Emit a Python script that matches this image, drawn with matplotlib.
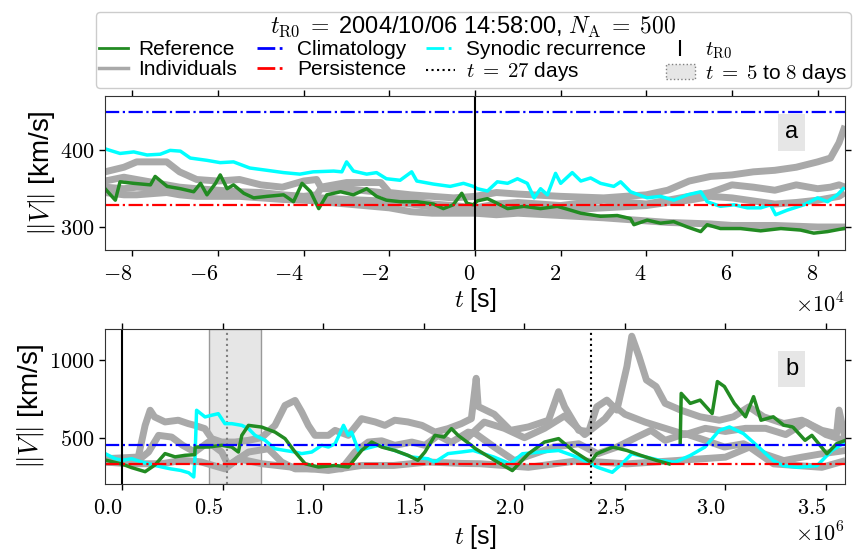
import numpy as np
import matplotlib.pyplot as plt
from matplotlib.lines import Line2D
from matplotlib.patches import Patch
from matplotlib.ticker import MultipleLocator, FuncFormatter

plt.rcParams['font.family'] = ['Liberation Sans', 'DejaVu Sans']
plt.rcParams['mathtext.fontset'] = 'cm'

# ---- values ----
climatology = 450.0
persistence = 329.0
day = 86400.0

# panel a: time in 1e4 s, speed in km/s
ta_ref = [-8.64, -8.4, -8.29, -7.97, -7.58, -7.47, -7.19, -6.88, -6.57, -6.41, -6.26, -6.06, -5.95, -5.79,
          -5.64, -5.4, -5.17, -4.86, -4.47, -4.24, -4.04, -3.84, -3.65, -3.46, -3.14, -2.84, -2.53, -2.3,
          -2.07, -1.75, -1.36, -0.97, -0.74, -0.51, -0.31, -0.19, -0.04, 0.05, 0.29, 0.44, 0.76, 1.14, 1.53,
          1.92, 2.23, 2.47, 2.93, 3.32, 3.63, 3.71, 4.02, 4.33, 4.64, 4.96, 5.27, 5.42, 5.73, 6.2, 6.67,
          7.14, 7.6, 7.91, 8.23, 8.61]
va_ref = [350, 335, 359, 357, 355, 366, 353, 350, 346, 357, 342, 357, 368, 350,
          355, 344, 338, 340, 342, 333, 357, 346, 324, 342, 346, 342, 350, 340,
          335, 333, 333, 330, 324, 329, 344, 331, 329, 334, 337, 333, 324, 327, 324,
          327, 322, 318, 314, 315, 311, 303, 309, 305, 307, 300, 294, 303, 298, 298, 295,
          298, 296, 292, 294, 298]

ta_syn = [-8.64, -8.29, -7.97, -7.66, -7.35, -7.12, -6.88, -6.65, -6.26, -5.95, -5.64, -5.26, -4.86, -4.47,
          -4.09, -3.78, -3.3, -3.11, -3.0, -2.84, -2.53, -2.3, -2.07, -1.75, -1.48, -1.36, -0.97, -0.58,
          -0.27, -0.04, 0.05, 0.29, 0.52, 0.76, 0.99, 1.22, 1.38, 1.53, 1.69, 1.88, 2.0, 2.27, 2.47, 2.7,
          2.93, 3.24, 3.4, 3.63, 4.02, 4.33, 4.64, 4.96, 5.27, 5.42, 5.73, 6.05, 6.36, 6.67, 6.9, 7.02,
          7.29, 7.68, 8.0, 8.23, 8.46, 8.6]
va_syn = [402, 396, 398, 394, 395, 400, 399, 390, 387, 384, 385, 377, 374, 371,
          369, 372, 373, 372, 385, 373, 369, 371, 363, 361, 372, 360, 356, 353,
          357, 353, 350, 347, 359, 357, 363, 357, 338, 350, 342, 370, 357, 371, 360, 364,
          357, 353, 359, 346, 338, 340, 335, 342, 346, 333, 327, 329, 325, 325, 329, 316,
          322, 329, 338, 333, 342, 350]

ta_ind = [-8.64, -8.2, -7.9, -7.2, -6.9, -6.5, -6.0, -5.5, -5.0, -4.5, -4.0, -3.7, -3.6, -3.0, -2.2, -2.0,
          -1.5, -1.0, -0.5, 0.0, 0.5, 1.0, 2.0, 3.0, 4.0, 4.5, 5.0, 5.5, 6.0, 6.5, 7.0, 7.5, 8.0, 8.3,
          8.5, 8.64]
va_ind1 = [372, 378, 385, 385, 372, 362, 360, 362, 355, 352, 360, 362, 352, 358, 358, 345,
           342, 340, 338, 340, 345, 343, 340, 338, 342, 348, 360, 366, 368, 372, 374, 378, 385, 390,
           410, 432]
va_ind2 = [360, 365, 362, 355, 352, 350, 348, 346, 345, 342, 340, 342, 350, 350, 345, 340,
           335, 330, 328, 325, 330, 332, 328, 335, 330, 335, 340, 345, 355, 352, 348, 355, 350, 352,
           355, 352]
va_ind3 = [345, 342, 342, 345, 342, 340, 340, 340, 338, 336, 335, 334, 333, 330, 326, 325,
           320, 318, 318, 318, 316, 318, 315, 312, 308, 306, 305, 304, 302, 302, 302, 301, 300, 300,
           300, 300]
va_ind4 = [352, 350, 352, 350, 347, 345, 343, 344, 342, 340, 338, 340, 338, 336, 334, 333,
           330, 326, 324, 322, 324, 325, 322, 325, 328, 332, 335, 340, 338, 334, 330, 332, 335, 338,
           340, 345]

# panel b: time in 1e6 s, speed in km/s
tb_ref = [-0.086, 0.0, 0.046, 0.113, 0.162, 0.212, 0.262, 0.312, 0.36, 0.362, 0.428, 0.494, 0.544, 0.577,
          0.594, 0.627, 0.693, 0.759, 0.809, 0.859, 0.909, 0.975, 1.058, 1.124, 1.157, 1.19, 1.24, 1.29,
          1.355, 1.42, 1.47, 1.505, 1.555, 1.6, 1.637, 1.67, 1.736, 1.757, 1.854, 1.94, 2.02, 2.1, 2.17,
          2.24, 2.33, 2.36, 2.44, 2.51, 2.58, 2.66, 2.72, np.nan, 2.775, 2.78, 2.825, 2.874, 2.934, 2.96,
          2.995, 3.044, 3.1, 3.14, 3.177, 3.238, 3.29, 3.335, 3.396, 3.43, 3.505, 3.553, 3.597]
vb_ref = [357, 330, 308, 282, 325, 398, 377, 387, 391, 440, 440, 451, 440, 408,
          515, 579, 568, 536, 494, 408, 333, 312, 322, 312, 365, 418, 472, 440,
          418, 387, 355, 408, 515, 504, 558, 515, 451, 429, 353, 289, 397, 472, 494,
          418, 343, 397, 440, 418, 386, 353, 332, np.nan, 470, 784, 720, 741, 655, 860,
          828, 720, 634, 763, 612, 634, 580, 569, 483, 515, 397, 461, 483]

tb_syn = [-0.086, -0.036, 0.0, 0.046, 0.096, 0.196, 0.24, 0.29, 0.33, 0.355, 0.361, 0.369, 0.411, 0.444,
          0.477, 0.51, 0.544, 0.594, 0.627, 0.66, 0.71, 0.759, 0.809, 0.859, 0.892, 0.942, 0.992, 1.025,
          1.058, 1.1, 1.124, 1.14, 1.174, 1.207, 1.273, 1.355, 1.44, 1.52, 1.555, 1.62, 1.686, 1.745,
          1.85, 1.93, 1.99, 2.07, 2.17, 2.24, 2.316, 2.364, 2.437, 2.485, 2.534, 2.607, 2.68, 2.75,
          2.825, 2.898, 2.97, 3.02, 3.09, 3.165, 3.238, 3.286, 3.36, 3.456, 3.53, 3.597]
vb_syn = [398, 365, 355, 365, 344, 312, 300, 290, 275, 248, 365, 676, 633, 644,
          654, 590, 590, 579, 558, 515, 483, 429, 418, 408, 398, 408, 451, 440,
          461, 579, 515, 536, 418, 429, 451, 418, 376, 365, 344, 398, 408, 418,
          375, 332, 397, 407, 418, 386, 343, 310, 278, 332, 397, 375, 353, 343,
          386, 440, 547, 569, 526, 440, 353, 321, 310, 321, 418, 472]

tb_ind1 = [-0.086, 0.079, 0.113, 0.138, 0.16, 0.212, 0.278, 0.328, 0.36, 0.41, 0.444, 0.494, 0.56, 0.627,
           0.693, 0.759, 0.809, 0.859, 0.892, 0.925, 0.958, 1.025, 1.058, 1.124, 1.19, 1.257, 1.306,
           1.355, 1.42, 1.49, 1.555, 1.62, 1.686, 1.736, 1.76, 1.77, 1.85, 1.93, 2.02, 2.12, 2.17, 2.2,
           2.27, 2.32, 2.36, 2.41, 2.46, 2.51, 2.534, 2.57, 2.607, 2.655, 2.7, 2.777, 2.874, 2.97, 3.04,
           3.117, 3.19, 3.29, 3.38, 3.48, 3.553, 3.565, 3.597]
vb_ind1 = [365, 376, 579, 676, 633, 601, 612, 590, 579, 558, 494, 472, 472, 483,
           500, 579, 707, 739, 665, 579, 515, 515, 547, 515, 622, 601, 579,
           612, 601, 579, 536, 558, 590, 622, 881, 700, 650, 547, 569, 612, 795, 698,
           547, 540, 698, 741, 677, 957, 1151, 1021, 870, 828, 720, 677, 634, 612, 634,
           698, 634, 591, 612, 547, 526, 677, 483]

tb_ind2 = [-0.086, 0.0, 0.079, 0.13, 0.18, 0.245, 0.3, 0.36, 0.428, 0.494, 0.527, 0.577, 0.627, 0.726,
           0.792, 0.859, 0.942, 1.025, 1.09, 1.157, 1.223, 1.29, 1.355, 1.44, 1.505, 1.57, 1.636, 1.72,
           1.757, 1.85, 1.95, 2.05, 2.146, 2.27, 2.364, 2.46, 2.56, 2.63, 2.7, 2.8, 2.9, 2.995, 3.09,
           3.19, 3.29, 3.38, 3.48, 3.597]
vb_ind2 = [344, 340, 355, 408, 515, 504, 451, 408, 472, 408, 322, 365, 408, 429,
           344, 300, 300, 312, 300, 408, 472, 480, 451, 472, 451, 515, 470, 536,
           526, 440, 353, 397, 440, 461, 397, 440, 504, 547, 483, 526, 483, 440, 461,
           397, 353, 375, 397, 418]

tb_ind3 = [-0.086, 0.03, 0.195, 0.3, 0.39, 0.51, 0.577, 0.693, 0.85, 1.025, 1.19, 1.35, 1.52, 1.686,
           1.78, 2.02, 2.27, 2.51, 2.75, 3.0, 3.12, 3.24, 3.48, 3.597]
vb_ind3 = [344, 333, 333, 355, 345, 300, 365, 333, 310, 290, 322, 322, 344, 335,
           333, 310, 353, 332, 353, 375, 440, 332, 310, 353]

tb_ind4 = [1.7, 1.8, 1.9, 2.0, 2.1, 2.2, 2.3, 2.4, 2.45, 2.5, 2.6, 2.7, 2.8, 2.9, 3.0, 3.1, 3.2, 3.3,
           3.4, 3.5, 3.597]
vb_ind4 = [480, 600, 560, 500, 560, 640, 520, 620, 700, 650, 600, 560, 520, 560, 540, 560, 560, 520,
           600, 520, 480]

# ---- figure ----
fig = plt.figure(figsize=(8.54, 5.51), dpi=100)
ax1 = fig.add_axes([0.123, 0.5463, 0.8665, 0.2795])
ax2 = fig.add_axes([0.123, 0.1216, 0.8665, 0.2813])

ta = np.array(ta_ind) * 1e4
for v in [va_ind1, va_ind2, va_ind3, va_ind4]:
    ax1.plot(ta, v, color='darkgray', lw=5, solid_capstyle='butt')
ax1.plot(np.array(ta_syn) * 1e4, va_syn, color='cyan', lw=2.5)
ax1.plot(np.array(ta_ref) * 1e4, va_ref, color='forestgreen', lw=2.5)
ax1.axhline(climatology, color='blue', ls='-.', lw=1.6)
ax1.axhline(persistence, color='red', ls='-.', lw=1.6)
ax1.axvline(0, color='black', lw=1.5)
ax1.set_xlim(-day, day)
ax1.set_ylim(270, 471)
xt1 = np.arange(-8, 9, 2)
ax1.set_xticks(xt1 * 1e4, ['$%d$' % v for v in xt1], ha='right')
ax1.yaxis.set_major_locator(MultipleLocator(100))
ax1.set_xlabel('$t$ [s]', fontsize=18, labelpad=1)
ax1.text(1.0, -0.28, r'$\times10^{4}$', transform=ax1.transAxes, ha='right', va='top', fontsize=16)
ax1.text(0.928, 0.763, 'a', transform=ax1.transAxes, ha='center', va='center', fontsize=17,
         bbox=dict(facecolor='0.9', edgecolor='none', boxstyle='square,pad=0.3'))

for tt, v in [(tb_ind1, vb_ind1), (tb_ind2, vb_ind2), (tb_ind3, vb_ind3), (tb_ind4, vb_ind4)]:
    ax2.plot(np.array(tt) * 1e6, v, color='darkgray', lw=5, solid_capstyle='butt')
ax2.axvspan(5 * day, 8 * day, facecolor='0.9', edgecolor='0.6', lw=1, zorder=0.5)
ax2.axvline(6 * day, color='gray', ls=':', lw=1.5)
ax2.plot(np.array(tb_syn) * 1e6, vb_syn, color='cyan', lw=2.5)
ax2.plot(np.array(tb_ref) * 1e6, vb_ref, color='forestgreen', lw=2.5)
ax2.axhline(climatology, color='blue', ls='-.', lw=1.6)
ax2.axhline(persistence, color='red', ls='-.', lw=1.6)
ax2.axvline(0, color='black', lw=1.5)
ax2.axvline(27 * day, color='black', ls=':', lw=1.5)
ax2.set_xlim(-day, 3.595e6)
ax2.set_ylim(203, 1197)
xt2 = np.arange(0, 3.6, 0.5)
ax2.set_xticks(xt2 * 1e6, ['$%.1f$' % v for v in xt2], ha='right')
ax2.yaxis.set_major_locator(MultipleLocator(500))
ax2.set_xlabel('$t$ [s]', fontsize=18, labelpad=3)
ax2.text(1.0, -0.25, r'$\times10^{6}$', transform=ax2.transAxes, ha='right', va='top', fontsize=16)
ax2.text(0.928, 0.74, 'b', transform=ax2.transAxes, ha='center', va='center', fontsize=17,
         bbox=dict(facecolor='0.9', edgecolor='none', boxstyle='square,pad=0.3'))

for ax in [ax1, ax2]:
    ax.yaxis.set_major_formatter(FuncFormatter(lambda y, p: '$%d$' % round(y)))
    ax.set_ylabel(r'$\|V\|$ [km/s]', fontsize=20, labelpad=2)
    ax.tick_params(direction='out', top=True, right=True, labelsize=16, length=4, width=1)
    ax.tick_params(axis='x', pad=6)
    for s in ax.spines.values():
        s.set_color('0.2')

handles = [Line2D([], [], color='forestgreen', lw=2),
           Line2D([], [], color='darkgray', lw=2.5),
           Line2D([], [], color='blue', ls='-.', lw=2),
           Line2D([], [], color='red', ls='-.', lw=2),
           Line2D([], [], color='cyan', ls='-.', lw=2),
           Line2D([], [], color='black', ls=':', lw=1.5),
           Line2D([], [], color='black', marker='|', ls='none', markersize=12, mew=1.5),
           Patch(facecolor='0.9', edgecolor='0.5', ls=':')]
labels = ['Reference', 'Individuals', 'Climatology', 'Persistence', 'Synodic recurrence',
          r'$t\;=\;27$ days', r'$t_\mathrm{R0}$', r'$t\;=\;5$ to $8$ days']
fig.legend(handles, labels, ncol=4, loc='lower left', bbox_to_anchor=(0.112, 0.84, 0.884, 0.152),
           mode='expand', fontsize=15,
           title=r'$t_\mathrm{R0}\;=\;$2004/10/06 14:58:00, $N_\mathrm{A}\;=\;500$',
           title_fontsize=17, handlelength=1.4, handletextpad=0.5, borderaxespad=0.0,
           labelspacing=0.05, borderpad=0.15, columnspacing=0.6, framealpha=1, edgecolor='0.8')

fig.savefig('out.png', dpi=100)
